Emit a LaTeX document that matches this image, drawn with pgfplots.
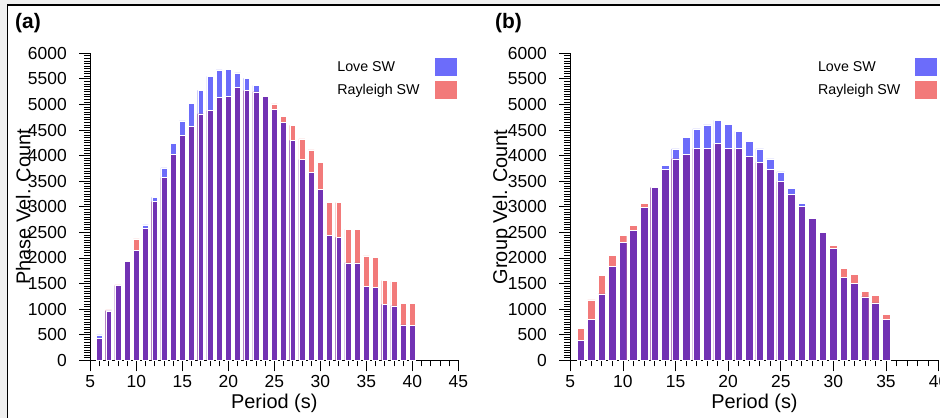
\documentclass[border=0pt]{standalone}
\usepackage{fontspec}
\setmainfont{Liberation Sans}
\usepackage{pgfplots}
\usepackage{pgfplotstable}
\pgfplotsset{compat=1.18}
\definecolor{loveblue}{RGB}{108,108,250}
\definecolor{rayred}{RGB}{242,122,122}
\definecolor{overlap}{RGB}{114,50,180}
\definecolor{bggray}{RGB}{240,240,240}

\pgfplotstableread{
x love ray both
6 495 423 423
7 965 985 965
8 1460 1472 1460
9 1928 1928 1928
10 2143 2371 2143
11 2645 2573 2573
12 3186 3101 3101
13 3759 3570 3570
14 4241 4026 4026
15 4678 4391 4391
16 5023 4567 4567
17 5277 4814 4814
18 5550 4879 4879
19 5674 5134 5134
20 5687 5153 5153
21 5616 5329 5329
22 5511 5270 5270
23 5375 5244 5244
24 5153 5153 5153
25 4906 5010 4906
26 4645 4762 4645
27 4300 4593 4300
28 3922 4326 3922
29 3674 4111 3674
30 3342 3863 3342
31 2436 3081 2436
32 2404 3081 2404
33 1902 2560 1902
34 1902 2560 1902
35 1440 2039 1440
36 1420 2007 1420
37 1094 1557 1094
38 1062 1537 1062
39 690 1114 690
40 678 1114 678
}\phasedata

\pgfplotstableread{
x love ray both
6 384 625 384
7 801 1179 801
8 1296 1655 1296
9 1831 2052 1831
10 2306 2436 2306
11 2534 2638 2534
12 2990 3068 2990
13 3375 3375 3375
14 3811 3733 3733
15 4130 3935 3935
16 4358 4020 4020
17 4521 4137 4137
18 4599 4137 4137
19 4691 4235 4235
20 4606 4137 4137
21 4476 4137 4137
22 4274 3987 3987
23 4130 3863 3863
24 3935 3726 3726
25 3681 3492 3492
26 3362 3238 3238
27 3068 3003 3003
28 2775 2775 2775
29 2502 2502 2502
30 2190 2241 2190
31 1622 1798 1622
32 1498 1681 1498
33 1238 1349 1238
34 1121 1264 1121
35 801 899 801
}\groupdata

\pgfplotsset{
  myax/.style={
    scale only axis, anchor=south west,
    height=307bp,
    axis lines=left, axis line style={-, line width=0.8bp},
    ymin=0, ymax=6000, ytick={0,500,...,6000},
    tick align=outside, major tick length=11bp, minor tick length=6bp,
    minor y tick num=9, minor x tick num=4,
    tick style={line width=0.8bp, black},
    /pgf/number format/1000 sep={},
    /pgf/number format/assume math mode=true,
    ticklabel style={font=\fontsize{17.5}{20}\selectfont},
    xticklabel shift=1bp, yticklabel shift=9bp,
    label style={font=\fontsize{20}{24}\selectfont},
    xlabel={Period (s)},
    xlabel style={at={(axis description cs:0.5,-0.1586)}, anchor=base},
    legend plot pos=right, legend cell align=left,
    legend style={draw=none, fill=none, at={(1,1)}, anchor=north east,
      inner sep=0pt, row sep=5bp,
      font=\fontsize{14.3}{17}\selectfont},
    ybar, clip=false,
  },
  lovebar/.style={fill=loveblue, draw=white, line width=0.4bp, bar shift=0pt,
    legend image code/.code={\path (0bp,0bp); \fill[loveblue] (13bp,-8.5bp) rectangle (34bp,8.5bp);}},
  raybar/.style={fill=rayred, draw=white, line width=0.4bp, bar shift=0pt,
    legend image code/.code={\path (0bp,0bp); \fill[rayred] (13bp,-8.5bp) rectangle (34bp,8.5bp);}},
  bothbar/.style={fill=overlap, draw=white, line width=0.4bp, bar shift=0pt, forget plot},
}

\begin{document}
\begin{tikzpicture}
\path[use as bounding box] (0bp,0bp) rectangle (940bp,418bp);
\fill[bggray] (0bp,0bp) rectangle (940bp,418bp);
\fill[white] (7.5bp,0bp) rectangle (940bp,413bp);
\draw[black, line width=1.6bp] (7.5bp,0bp) -- (7.5bp,413bp) -- (940bp,413bp);

\node[anchor=base west, inner sep=0pt, font=\bfseries\fontsize{21}{25}\selectfont] at (15bp,389.7bp) {(a)};
\node[anchor=base west, inner sep=0pt, font=\bfseries\fontsize{21}{25}\selectfont] at (495bp,389.7bp) {(b)};

\begin{axis}[myax, at={(90.3bp,57.7bp)}, width=368bp,
  xmin=5, xmax=45, xtick={5,10,...,45}, bar width=0.65,
  ylabel={Phase Vel. Count},
  ylabel style={at={(axis description cs:-0.182,0.5)}, anchor=center},
  legend style={xshift=-2bp, yshift=-5bp}]
\addplot[lovebar] table[x=x, y=love] {\phasedata};
\addlegendentry{Love SW}
\addplot[raybar] table[x=x, y=ray] {\phasedata};
\addlegendentry{Rayleigh SW}
\addplot[bothbar] table[x=x, y=both] {\phasedata};
\end{axis}

\begin{axis}[myax, at={(570.3bp,57.7bp)}, width=368.3bp,
  xmin=5, xmax=40, xtick={5,10,...,40}, bar width=0.72,
  ylabel={Group Vel. Count},
  ylabel style={at={(axis description cs:-0.1855,0.5)}, anchor=center},
  legend style={xshift=-1.6bp, yshift=-5bp}]
\addplot[lovebar] table[x=x, y=love] {\groupdata};
\addlegendentry{Love SW}
\addplot[raybar] table[x=x, y=ray] {\groupdata};
\addlegendentry{Rayleigh SW}
\addplot[bothbar] table[x=x, y=both] {\groupdata};
\end{axis}
\end{tikzpicture}
\end{document}
